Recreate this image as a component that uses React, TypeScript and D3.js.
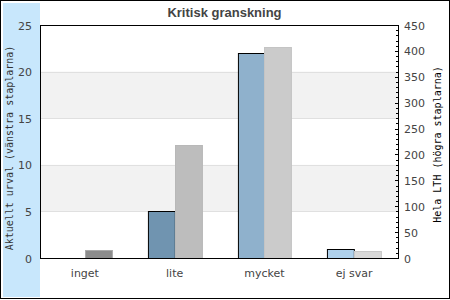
import React from "react";
import * as d3 from "d3";

const categories = ["inget", "lite", "mycket", "ej svar"];
const leftValues = [0, 5, 22, 1];
const rightValues = [15, 218, 407, 14];
const leftTicks = [0, 5, 10, 15, 20, 25];
const rightTicks = [0, 50, 100, 150, 200, 250, 300, 350, 400, 450];
const leftColors = ["#4f7290", "#7094b0", "#8fb1cc", "#afd1ec"];
const rightColors = ["#8c8c8c", "#bdbdbd", "#cbcbcb", "#d9d9d9"];
const rightStrokes = ["#aaaaaa", "#b8b8b8", "#c4c4c4", "#c8c8c8"];
const title = "Kritisk granskning";
const leftTitle = "Aktuellt urval (vänstra staplarna)";
const rightTitle = "Hela LTH (högra staplarna)";

export default function App() {
  const W = 450, H = 300;
  const m = { left: 40, right: 399, top: 25, bottom: 258 };
  const x = d3.scaleBand<string>().domain(categories).range([m.left, m.right]).paddingInner(0).paddingOuter(0);
  const yL = d3.scaleLinear().domain([0, 25]).range([m.bottom, m.top]);
  const yR = d3.scaleLinear().domain([0, 450]).range([m.bottom, m.top]);
  const barW = x.bandwidth() * 0.3;
  const minor = d3.range(0, 451, 10);
  const bands = [[5, 10], [15, 20]];
  const grid = [5, 10, 15, 20];
  return (
    <svg width={W} height={H} style={{ position: "absolute", left: 0, top: 0 }}>
      <rect x={0} y={0} width={W} height={H} fill="#fff" />
      <rect x={0.5} y={0.5} width={449} height={298} fill="none" stroke="#000" />
      <rect x={3} y={3} width={m.left - 3} height={294} fill="#c8e7fc" />
      {bands.map(([a, b], i) => (
        <rect key={"b" + i} x={m.left} y={yL(b)} width={m.right - m.left} height={yL(a) - yL(b)} fill="#f2f2f2" />
      ))}
      {grid.map((g) => (
        <line key={"g" + g} x1={m.left} x2={m.right} y1={Math.round(yL(g)) + 0.5} y2={Math.round(yL(g)) + 0.5} stroke="#e0e0e0" />
      ))}
      {categories.map((c, i) => {
        const cx = (x(c) as number) + x.bandwidth() / 2;
        const yl = yL(leftValues[i]);
        const yr = yR(rightValues[i]);
        return (
          <g key={c}>
            {leftValues[i] > 0 && (
              <rect x={Math.round(cx - 2 * barW) + 0.5 + barW} y={Math.round(yl) + 0.5} width={barW} height={m.bottom - Math.round(yl)} fill={leftColors[i]} stroke="#000" />
            )}
            <rect x={Math.round(cx) + 0.5} y={Math.round(yr) + 0.5} width={barW} height={m.bottom - Math.round(yr)} fill={rightColors[i]} stroke={rightStrokes[i]} />
            <text x={cx} y={277} textAnchor="middle" fontFamily="DejaVu Sans" fontSize={11} fill="#444">{c}</text>
          </g>
        );
      })}
      <rect x={m.left + 0.5} y={m.top + 0.5} width={m.right - m.left - 1} height={m.bottom - m.top} fill="none" stroke="#000" />
      {minor.map((v) => (
        <line key={"m" + v} x1={m.right - (v % 50 === 0 ? 4 : 3)} x2={m.right} y1={Math.round(yR(v)) + 0.5} y2={Math.round(yR(v)) + 0.5} stroke="#000" />
      ))}
      {leftTicks.map((t) => (
        <text key={"l" + t} x={32} y={yL(t) + 4.5} textAnchor="end" fontFamily="DejaVu Sans" fontSize={11} fill="#444">{t}</text>
      ))}
      {rightTicks.map((t) => (
        <text key={"r" + t} x={404} y={yR(t) + 4.5} textAnchor="start" fontFamily="DejaVu Sans" fontSize={11} fill="#444">{t}</text>
      ))}
      <text x={224.5} y={17} textAnchor="middle" fontFamily="Liberation Sans" fontWeight="bold" fontSize={13} fill="#444">{title}</text>
      <text transform="translate(13,148) rotate(-90)" textAnchor="middle" fontFamily="DejaVu Sans Mono" fontSize={10} fill="#333">{leftTitle}</text>
      <text transform="translate(441,144.5) rotate(-90)" textAnchor="middle" fontFamily="DejaVu Sans Mono" fontSize={10} fill="#000">{rightTitle}</text>
    </svg>
  );
}
